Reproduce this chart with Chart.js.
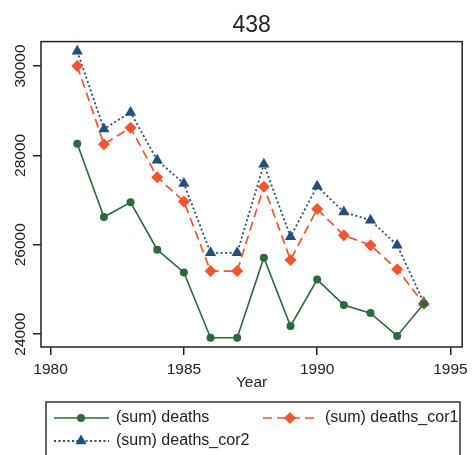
<!DOCTYPE html>
<html>
<head>
<meta charset="utf-8">
<script src="https://cdn.jsdelivr.net/npm/chart.js@4.4.0/dist/chart.umd.min.js"></script>
<style>
    body { margin: 0; background: #fff; }
    #wrap { width: 473px; height: 455px; position: relative; }
</style>
</head>
<body>
<div id="wrap"><canvas id="deathsChart"></canvas></div>
<script>
const years = [1981, 1982, 1983, 1984, 1985, 1986, 1987, 1988, 1989, 1990, 1991, 1992, 1993, 1994];
const deaths = [28260, 26620, 26950, 25890, 25380, 23920, 23920, 25710, 24180, 25220, 24650, 24470, 23960, 24680];
const deathsCor1 = [30000, 28250, 28620, 27510, 26970, 25410, 25410, 27300, 25660, 26800, 26210, 25990, 25450, 24680];
const deathsCor2 = [30330, 28590, 28960, 27890, 27370, 25820, 25820, 27800, 26180, 27310, 26730, 26550, 25990, 24710];
const xTicks = [1980, 1985, 1990, 1995];
const yTicks = [24000, 26000, 28000, 30000];
const seriesNames = ['(sum) deaths', '(sum) deaths_cor1', '(sum) deaths_cor2'];

const FONT = "'Liberation Sans', Arial, Helvetica, sans-serif";
const AXIS_COLOR = '#222';

function toPoints(values) {
    return years.map((yr, i) => ({ x: yr, y: values[i] }));
}

// box around the plot region
const framePlugin = {
    id: 'frame',
    afterDraw(chart) {
        const { ctx, chartArea: a } = chart;
        ctx.save();
        ctx.strokeStyle = AXIS_COLOR;
        ctx.lineWidth = 1.5;
        ctx.strokeRect(a.left, a.top, a.right - a.left, a.bottom - a.top);
        ctx.restore();
    }
};

function drawMarker(ctx, style, x, y, r) {
    ctx.beginPath();
    if (style === 'circle') {
        ctx.arc(x, y, r, 0, Math.PI * 2);
    } else if (style === 'rectRot') {
        ctx.moveTo(x, y - r);
        ctx.lineTo(x + r, y);
        ctx.lineTo(x, y + r);
        ctx.lineTo(x - r, y);
        ctx.closePath();
    } else {
        ctx.moveTo(x, y - r);
        ctx.lineTo(x + r * Math.sin(Math.PI * 2 / 3), y + r / 2);
        ctx.lineTo(x - r * Math.sin(Math.PI * 2 / 3), y + r / 2);
        ctx.closePath();
    }
    ctx.fill();
}

// Stata style legend: boxed, two columns
const legendPlugin = {
    id: 'boxLegend',
    afterDraw(chart) {
        const ctx = chart.ctx;
        const slots = [
            { x: 54, y: 418 },
            { x: 263, y: 418 },
            { x: 54, y: 441 }
        ];
        ctx.save();
        ctx.strokeStyle = '#333';
        ctx.lineWidth = 1.5;
        ctx.strokeRect(46, 402, 414, 70);
        chart.data.datasets.forEach((ds, i) => {
            const s = slots[i];
            ctx.strokeStyle = ds.borderColor;
            ctx.fillStyle = ds.borderColor;
            ctx.lineWidth = ds.borderWidth;
            ctx.setLineDash(ds.borderDash || []);
            ctx.beginPath();
            ctx.moveTo(s.x, s.y);
            ctx.lineTo(s.x + 55, s.y);
            ctx.stroke();
            ctx.setLineDash([]);
            drawMarker(ctx, ds.pointStyle, s.x + 27, s.y, ds.pointRadius);
            ctx.fillStyle = '#222';
            ctx.font = '16px ' + FONT;
            ctx.textBaseline = 'middle';
            ctx.textAlign = 'left';
            ctx.fillText(ds.label, s.x + 62, s.y);
        });
        ctx.restore();
    }
};

const ctx = document.getElementById('deathsChart').getContext('2d');
new Chart(ctx, {
    type: 'line',
    data: {
        datasets: [
            {
                label: seriesNames[0],
                data: toPoints(deaths),
                borderColor: '#2b6a3b',
                backgroundColor: '#2b6a3b',
                borderWidth: 1.6,
                pointStyle: 'circle',
                pointRadius: 4,
                pointBorderWidth: 0,
                tension: 0
            },
            {
                label: seriesNames[1],
                data: toPoints(deathsCor1),
                borderColor: '#f2552d',
                backgroundColor: '#f2552d',
                borderWidth: 1.7,
                borderDash: [9, 5],
                pointStyle: 'rectRot',
                pointRadius: 6,
                pointBorderWidth: 0,
                tension: 0
            },
            {
                label: seriesNames[2],
                data: toPoints(deathsCor2),
                borderColor: '#254f7b',
                backgroundColor: '#254f7b',
                borderWidth: 1.8,
                borderDash: [2, 2.5],
                pointStyle: 'triangle',
                pointRadius: 6.5,
                pointBorderWidth: 0,
                tension: 0
            }
        ]
    },
    options: {
        responsive: true,
        maintainAspectRatio: false,
        animation: false,
        layout: { padding: { top: 0, left: 0, right: 8, bottom: 0 } },
        scales: {
            x: {
                type: 'linear',
                min: 1979.64,
                max: 1995.44,
                afterBuildTicks: (scale) => { scale.ticks = xTicks.map(v => ({ value: v })); },
                afterFit: (scale) => { scale.height = 108; },
                grid: { drawOnChartArea: false, drawTicks: true, tickLength: 8, color: AXIS_COLOR, lineWidth: 1.5 },
                border: { display: false },
                ticks: {
                    color: '#222',
                    font: { family: FONT, size: 15.5 },
                    padding: 5,
                    maxRotation: 0,
                    callback: (v) => String(v)
                },
                title: {
                    display: true,
                    text: 'Year',
                    color: '#222',
                    font: { family: FONT, size: 15.5 },
                    padding: { top: 0, bottom: 62.5 }
                }
            },
            y: {
                min: 23712,
                max: 30545,
                afterBuildTicks: (scale) => { scale.ticks = yTicks.map(v => ({ value: v })); },
                afterFit: (scale) => { scale.width = 41; },
                grid: { drawOnChartArea: false, drawTicks: true, tickLength: 8, color: AXIS_COLOR, lineWidth: 1.5 },
                border: { display: false },
                ticks: {
                    color: '#222',
                    font: { family: FONT, size: 15.5 },
                    minRotation: 90,
                    maxRotation: 90,
                    crossAlign: 'center',
                    padding: -9,
                    callback: (v) => String(v)
                }
            }
        },
        plugins: {
            title: {
                display: true,
                fullSize: false,
                text: '438',
                color: '#222',
                font: { family: FONT, size: 23, weight: 'normal' },
                padding: { top: 12, bottom: 2 }
            },
            legend: { display: false },
            tooltip: { enabled: false }
        }
    },
    plugins: [framePlugin, legendPlugin]
});
</script>
</body>
</html>
